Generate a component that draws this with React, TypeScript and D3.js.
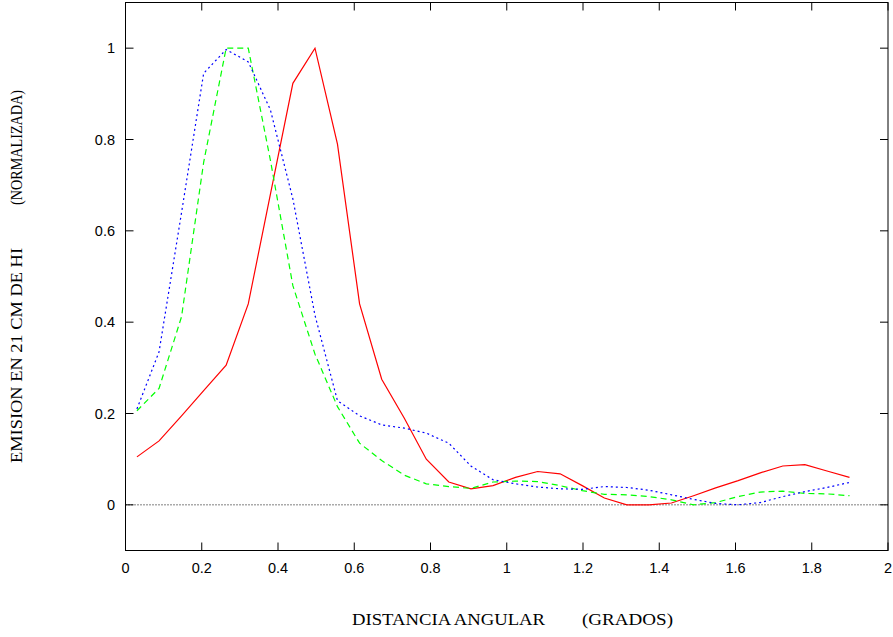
import React from "react";
import * as d3 from "d3";

const xValues = [
  0.030, 0.088, 0.147, 0.205, 0.264, 0.322, 0.380, 0.439, 0.497, 0.556,
  0.614, 0.672, 0.731, 0.789, 0.848, 0.906, 0.964, 1.023, 1.081, 1.140,
  1.198, 1.256, 1.315, 1.373, 1.432, 1.490, 1.548, 1.607, 1.665, 1.724,
  1.782, 1.840, 1.899,
];

const redValues = [
  0.105, 0.14, 0.195, 0.25, 0.306, 0.44, 0.68, 0.923, 1.0, 0.79,
  0.44, 0.275, 0.19, 0.10, 0.05, 0.035, 0.042, 0.06, 0.073, 0.068,
  0.042, 0.015, 0.0, 0.0, 0.004, 0.02, 0.037, 0.053, 0.07, 0.085,
  0.088, 0.074, 0.06,
];

const blueValues = [
  0.21, 0.335, 0.64, 0.945, 0.997, 0.97, 0.865, 0.67, 0.415, 0.228,
  0.195, 0.175, 0.168, 0.157, 0.135, 0.085, 0.055, 0.046, 0.039, 0.035,
  0.034, 0.04, 0.038, 0.032, 0.022, 0.012, 0.003, 0.0, 0.005, 0.018,
  0.029, 0.038, 0.049,
];

const greenValues = [
  0.206, 0.255, 0.412, 0.75, 1.0, 1.0, 0.755, 0.48, 0.33, 0.215,
  0.135, 0.097, 0.065, 0.046, 0.04, 0.036, 0.05, 0.052, 0.051, 0.042,
  0.031, 0.023, 0.022, 0.018, 0.011, 0.0, 0.005, 0.018, 0.028, 0.03,
  0.025, 0.024, 0.02,
];

const xTicks = [0, 0.2, 0.4, 0.6, 0.8, 1, 1.2, 1.4, 1.6, 1.8, 2];
const xTickLabels = ["0", "0.2", "0.4", "0.6", "0.8", "1", "1.2", "1.4", "1.6", "1.8", "2"];
const yTicks = [0, 0.2, 0.4, 0.6, 0.8, 1];
const yTickLabels = ["0", "0.2", "0.4", "0.6", "0.8", "1"];

const series = [
  { name: "red", values: redValues, color: "#ff0000", dash: "none" },
  { name: "green", values: greenValues, color: "#00ff00", dash: "6,4" },
  { name: "blue", values: blueValues, color: "#0000ff", dash: "2,3" },
];

export default function App() {
  const W = 893;
  const H = 637;
  const left = 125.5;
  const right = 888;
  const top = 2.5;
  const bottom = 550.5;

  const x = d3.scaleLinear().domain([0, 2]).range([left, right]);
  const y = d3.scaleLinear().domain([-0.1, 1.1]).range([bottom, top]);

  const line = d3
    .line<number>()
    .x((_, i) => x(xValues[i]))
    .y((d) => y(d));

  const tickLen = 8;
  const sans = "'Liberation Sans', Arial, sans-serif";
  const serif = "'Liberation Serif', 'Times New Roman', serif";

  return (
    <svg
      width={W}
      height={H}
      style={{ position: "absolute", left: 0, top: 0, background: "#fff" }}
    >
      <rect x={0} y={0} width={W} height={H} fill="#fff" />
      {/* zero line */}
      <line
        x1={left}
        x2={right}
        y1={y(0)}
        y2={y(0)}
        stroke="#000"
        strokeWidth={1}
        strokeDasharray="1,2"
      />
      {/* series */}
      {series.map((s) => (
        <path
          key={s.name}
          d={line(s.values) || ""}
          fill="none"
          stroke={s.color}
          strokeWidth={1.2}
          strokeDasharray={s.dash}
        />
      ))}
      {/* x ticks */}
      {xTicks.map((t, i) => (
        <g key={"xt" + i}>
          <line x1={x(t)} x2={x(t)} y1={bottom} y2={bottom - tickLen} stroke="#000" />
          <line x1={x(t)} x2={x(t)} y1={top} y2={top + tickLen} stroke="#000" />
          <text
            x={x(t)}
            y={573}
            textAnchor="middle"
            fontFamily={sans}
            fontSize={14.5}
            fill="#000"
          >
            {xTickLabels[i]}
          </text>
        </g>
      ))}
      {/* y ticks */}
      {yTicks.map((t, i) => (
        <g key={"yt" + i}>
          <line x1={left} x2={left + tickLen} y1={y(t)} y2={y(t)} stroke="#000" />
          <line x1={right} x2={right - tickLen} y1={y(t)} y2={y(t)} stroke="#000" />
          <text
            x={115}
            y={y(t) + 5}
            textAnchor="end"
            fontFamily={sans}
            fontSize={14.5}
            fill="#000"
          >
            {yTickLabels[i]}
          </text>
        </g>
      ))}
      {/* frame */}
      <rect
        x={left}
        y={top}
        width={right - left}
        height={bottom - top}
        fill="none"
        stroke="#000"
        strokeWidth={1}
      />
      {/* x label */}
      <text
        x={352}
        y={625}
        fontFamily={serif}
        fontSize={17}
        fill="#000"
        textLength={193}
        lengthAdjust="spacingAndGlyphs"
      >
        DISTANCIA ANGULAR
      </text>
      <text
        x={582}
        y={625}
        fontFamily={serif}
        fontSize={17}
        fill="#000"
        textLength={91}
        lengthAdjust="spacingAndGlyphs"
      >
        (GRADOS)
      </text>
      {/* y label */}
      <text
        transform="translate(22,463) rotate(-90)"
        fontFamily={serif}
        fontSize={17}
        fill="#000"
        textLength={215}
        lengthAdjust="spacingAndGlyphs"
      >
        EMISION EN 21 CM DE HI
      </text>
      <text
        transform="translate(22,205) rotate(-90)"
        fontFamily={serif}
        fontSize={17}
        fill="#000"
        textLength={115}
        lengthAdjust="spacingAndGlyphs"
      >
        (NORMALIZADA)
      </text>
    </svg>
  );
}
